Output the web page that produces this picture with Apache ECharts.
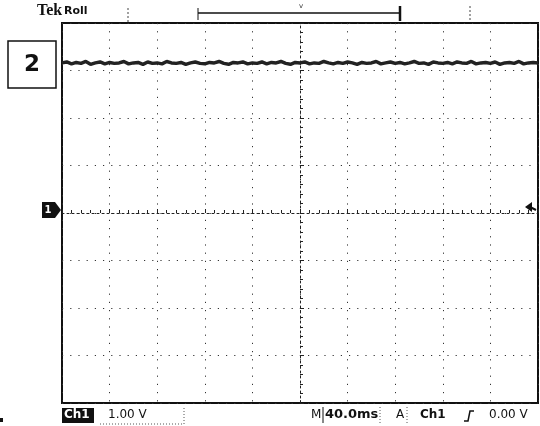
<!DOCTYPE html>
<html>
<head>
<meta charset="utf-8">
<script src="https://cdn.jsdelivr.net/npm/echarts@6/dist/echarts.min.js"></script>
<style>
  html, body { margin: 0; padding: 0; background: #fff; }
  #main { width: 540px; height: 426px; }
</style>
</head>
<body>
<div id="main"></div>
<script>
// scope settings
var voltsPerDiv = 1.0;
var msPerDiv = 40.0;
var sampleMs = 4;           // one sample every 4 ms over 10 divisions
// ch1 trace (volts), centre 0 V
var ch1Volts = [
  3.16, 3.18, 3.14, 3.17, 3.15, 3.19, 3.13, 3.16, 3.18, 3.14,
  3.17, 3.15, 3.16, 3.19, 3.14, 3.16, 3.17, 3.13, 3.18, 3.15,
  3.16, 3.14, 3.19, 3.16, 3.15, 3.17, 3.13, 3.16, 3.18, 3.15,
  3.14, 3.17, 3.16, 3.19, 3.15, 3.13, 3.17, 3.16, 3.18, 3.14,
  3.16, 3.15, 3.18, 3.14, 3.17, 3.16, 3.19, 3.15, 3.13, 3.17,
  3.16, 3.18, 3.14, 3.16, 3.15, 3.19, 3.16, 3.14, 3.17, 3.15,
  3.18, 3.16, 3.13, 3.17, 3.15, 3.16, 3.19, 3.14, 3.16, 3.18,
  3.15, 3.17, 3.14, 3.16, 3.19, 3.15, 3.16, 3.13, 3.18, 3.16,
  3.15, 3.17, 3.14, 3.18, 3.16, 3.15, 3.19, 3.14, 3.16, 3.17,
  3.15, 3.18, 3.13, 3.16, 3.17, 3.15, 3.19, 3.14, 3.16, 3.17, 3.16
];
var readout = { ch: "Ch1", scale: "1.00 V", time: "40.0ms", trigSrc: "Ch1", trigLevel: "0.00 V" };

var traceData = [];
for (var i = 0; i < ch1Volts.length; i++) {
  traceData.push([i * sampleMs - 5 * msPerDiv, ch1Volts[i]]);
}

var font = "DejaVu Sans";
var chart = echarts.init(document.getElementById("main"));
var gridDots = { color: "#333", width: 1, type: [1.2, 7] };

var option = {
  animation: false,
  backgroundColor: "#fff",
  grid: { left: 62, top: 23, width: 476, height: 380, show: true, borderColor: "#111", borderWidth: 2 },
  xAxis: {
    type: "value",
    min: -5 * msPerDiv, max: 5 * msPerDiv, interval: msPerDiv,
    axisLine: { onZero: true, lineStyle: { color: "#222", width: 1, type: [2, 3] } },
    axisTick: { show: true, inside: true, length: 4, lineStyle: { color: "#222" } },
    minorTick: { show: true, splitNumber: 5, length: 3, lineStyle: { color: "#222" } },
    axisLabel: { show: false },
    splitLine: { show: true, lineStyle: gridDots }
  },
  yAxis: {
    type: "value",
    min: -4 * voltsPerDiv, max: 4 * voltsPerDiv, interval: voltsPerDiv,
    axisLine: { onZero: true, lineStyle: { color: "#222", width: 1, type: [2, 3] } },
    axisTick: { show: true, inside: true, length: 4, lineStyle: { color: "#222" } },
    minorTick: { show: true, splitNumber: 5, length: 3, lineStyle: { color: "#222" } },
    axisLabel: { show: false },
    splitLine: { show: true, lineStyle: gridDots }
  },
  series: [{
    type: "line",
    data: traceData,
    showSymbol: false,
    lineStyle: { color: "#222", width: 3.5 }
  }],
  graphic: [
    // header
    { type: "text", left: 37, top: 3, style: { text: "Tek", font: "bold 16px 'Liberation Serif'", fill: "#111" } },
    { type: "text", left: 64, top: 6, style: { text: "Roll", font: "bold 11px '" + font + "'", fill: "#111" } },
    { type: "line", shape: { x1: 128, y1: 8, x2: 128, y2: 22 }, style: { stroke: "#444", lineWidth: 1, lineDash: [2, 2] } },
    { type: "line", shape: { x1: 198, y1: 13, x2: 400, y2: 13 }, style: { stroke: "#111", lineWidth: 1.5 } },
    { type: "line", shape: { x1: 198, y1: 8, x2: 198, y2: 20 }, style: { stroke: "#111", lineWidth: 1 } },
    { type: "line", shape: { x1: 400, y1: 6, x2: 400, y2: 21 }, style: { stroke: "#111", lineWidth: 2.5 } },
    { type: "text", left: 299, top: 3, style: { text: "v", font: "7px '" + font + "'", fill: "#333" } },
    { type: "line", shape: { x1: 470, y1: 6, x2: 470, y2: 22 }, style: { stroke: "#444", lineWidth: 1, lineDash: [2, 2] } },
    // channel number box
    { type: "rect", shape: { x: 8, y: 41, width: 48, height: 47 }, style: { fill: "#fff", stroke: "#111", lineWidth: 1.5 } },
    { type: "text", x: 32, y: 65, style: { text: "2", font: "bold 23px '" + font + "'", fill: "#111", align: "center", verticalAlign: "middle" } },
    // ground marker
    { type: "polygon", shape: { points: [[42, 202], [55, 202], [61, 210], [55, 218], [42, 218]] }, style: { fill: "#111" } },
    { type: "text", x: 48, y: 210, style: { text: "1", font: "bold 10px '" + font + "'", fill: "#fff", align: "center", verticalAlign: "middle" } },
    // trigger level marker
    { type: "polygon", shape: { points: [[525, 207], [532, 202], [532, 212]] }, style: { fill: "#111" } },
    { type: "line", shape: { x1: 530, y1: 207, x2: 536, y2: 210 }, style: { stroke: "#111", lineWidth: 2 } },
    // bottom readout
    { type: "rect", shape: { x: 62, y: 408, width: 32, height: 15 }, style: { fill: "#111" } },
    { type: "text", left: 64, top: 409, style: { text: readout.ch, font: "bold 12px '" + font + "'", fill: "#fff" } },
    { type: "text", left: 108, top: 409, style: { text: readout.scale, font: "12px '" + font + "'", fill: "#111" } },
    { type: "polyline", shape: { points: [[100, 424], [184, 424], [184, 407]] }, style: { stroke: "#555", lineWidth: 1, lineDash: [1, 2], fill: null } },
    { type: "text", left: 311, top: 409, style: { text: "M", font: "12px '" + font + "'", fill: "#111" } },
    { type: "line", shape: { x1: 323, y1: 407, x2: 323, y2: 423 }, style: { stroke: "#111", lineWidth: 1 } },
    { type: "text", left: 325, top: 408, style: { text: readout.time, font: "bold 13px '" + font + "'", fill: "#111" } },
    { type: "line", shape: { x1: 380, y1: 407, x2: 380, y2: 423 }, style: { stroke: "#555", lineWidth: 1, lineDash: [1, 2] } },
    { type: "text", left: 396, top: 409, style: { text: "A", font: "12px '" + font + "'", fill: "#111" } },
    { type: "line", shape: { x1: 407, y1: 407, x2: 407, y2: 423 }, style: { stroke: "#555", lineWidth: 1, lineDash: [1, 2] } },
    { type: "text", left: 420, top: 409, style: { text: readout.trigSrc, font: "bold 12px '" + font + "'", fill: "#111" } },
    { type: "polyline", shape: { points: [[464, 421], [468, 421], [470, 411], [474, 411]] }, style: { stroke: "#111", lineWidth: 1.5, fill: null } },
    { type: "text", left: 489, top: 409, style: { text: readout.trigLevel, font: "12px '" + font + "'", fill: "#111" } },
    { type: "rect", shape: { x: 0, y: 418, width: 3, height: 4 }, style: { fill: "#111" } }
  ]
};
chart.setOption(option);
</script>
</body>
</html>
